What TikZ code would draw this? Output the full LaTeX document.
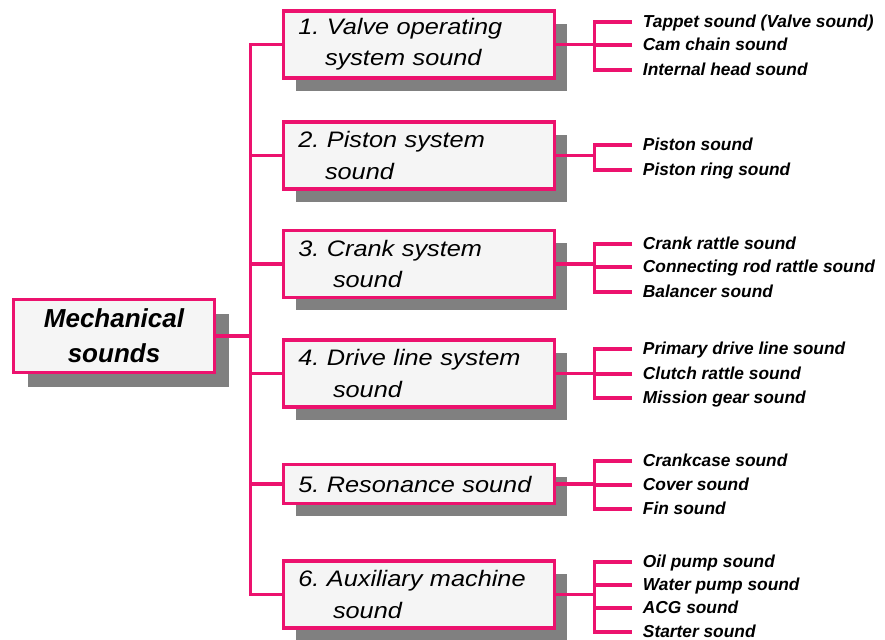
\documentclass[tikz,border=0pt]{standalone}
\usepackage{fontspec}
\setmainfont{Liberation Sans}
\newfontfamily\catfont[FakeStretch=1.13]{Liberation Sans}
\usepackage{tikz}
\usetikzlibrary{shadows}
\definecolor{linepink}{RGB}{236,18,110}
\definecolor{boxfill}{RGB}{245,245,245}
\definecolor{shadowgrey}{RGB}{128,128,128}
\frenchspacing

\begin{document}
\begin{tikzpicture}[x=0.75pt,y=-0.75pt,
  main node/.style={rectangle,draw=linepink,line width=2.3pt,fill=boxfill,
    minimum width=150.75pt,minimum height=54.75pt,align=center,
    general shadow={fill=shadowgrey,shadow xshift=11pt,shadow yshift=-11pt},
    font=\bfseries\itshape\fontsize{19.5}{26}\selectfont},
  cat node/.style={rectangle,draw=linepink,line width=2.3pt,fill=boxfill,
    minimum width=203.25pt,minimum height=50.25pt,inner xsep=11pt,
    text width=181pt,align=left,
    general shadow={fill=shadowgrey,shadow xshift=9.5pt,shadow yshift=-9.5pt},
    font=\catfont\itshape\fontsize{16.8}{23.3}\selectfont},
  leaf node/.style={anchor=west,inner xsep=8pt,inner ysep=0pt,
    text height=7.8pt,text depth=0pt,
    font=\bfseries\itshape\fontsize{13}{15}\selectfont},
  link/.style={draw=linepink,line width=2.4pt}]

  \path[use as bounding box,fill=white] (0,0) rectangle (885,639);

  \node[main node] (m) at (114,336) {Mechanical\\sounds};

  \node[cat node] (c1) at (419,44.5) {1. Valve operating\\\hspace*{20pt}system sound};
  \node[cat node] (c2) at (419,155.5) {2. Piston system\\\hspace*{20pt}sound};
  \node[cat node] (c3) at (419,264) {3. Crank system\\\hspace*{26pt}sound};
  \node[cat node] (c4) at (419,373.5) {4. Drive line system\\\hspace*{26pt}sound};
  \node[cat node,minimum height=29.25pt] (c5) at (419,484) {5. Resonance sound};
  \node[cat node] (c6) at (419,594.5) {6. Auxiliary machine\\\hspace*{26pt}sound};

  \node[leaf node] (l11) at (632,22) {Tappet sound (Valve sound)};
  \node[leaf node] (l12) at (632,45) {Cam chain sound};
  \node[leaf node] (l13) at (632,70) {Internal head sound};
  \node[leaf node] (l21) at (632,145) {Piston sound};
  \node[leaf node] (l22) at (632,170) {Piston ring sound};
  \node[leaf node] (l31) at (632,244) {Crank rattle sound};
  \node[leaf node] (l32) at (632,267) {Connecting rod rattle sound};
  \node[leaf node] (l33) at (632,292) {Balancer sound};
  \node[leaf node] (l41) at (632,349) {Primary drive line sound};
  \node[leaf node] (l42) at (632,374) {Clutch rattle sound};
  \node[leaf node] (l43) at (632,398) {Mission gear sound};
  \node[leaf node] (l51) at (632,461) {Crankcase sound};
  \node[leaf node] (l52) at (632,485) {Cover sound};
  \node[leaf node] (l53) at (632,509) {Fin sound};
  \node[leaf node] (l61) at (632,562) {Oil pump sound};
  \node[leaf node] (l62) at (632,585) {Water pump sound};
  \node[leaf node] (l63) at (632,608) {ACG sound};
  \node[leaf node] (l64) at (632,632) {Starter sound};

  % trunk from the main box
  \draw[link] (m.east) -- ++(34.5,0) coordinate (t);
  \draw[link] (c1.west) -| (t);
  \draw[link] (c6.west) -| (t);
  \draw[link] (c2.west) -- (c2.west -| t);
  \draw[link] (c3.west) -- (c3.west -| t);
  \draw[link] (c4.west) -- (c4.west -| t);
  \draw[link] (c5.west) -- (c5.west -| t);

  % brackets to the single sounds
  \draw[link] (c1.east) -- ++(38.5,0) coordinate (b1);
  \draw[link] (l11.west) -| (b1) |- (l13.west) (l12.west) -- (l12.west -| b1);
  \draw[link] (c2.east) -- ++(38.5,0) coordinate (b2);
  \draw[link] (l21.west) -| (b2) |- (l22.west);
  \draw[link] (c3.east) -- ++(38.5,0) coordinate (b3);
  \draw[link] (l31.west) -| (b3) |- (l33.west) (l32.west) -- (l32.west -| b3);
  \draw[link] (c4.east) -- ++(38.5,0) coordinate (b4);
  \draw[link] (l41.west) -| (b4) |- (l43.west) (l42.west) -- (l42.west -| b4);
  \draw[link] (c5.east) -- ++(38.5,0) coordinate (b5);
  \draw[link] (l51.west) -| (b5) |- (l53.west) (l52.west) -- (l52.west -| b5);
  \draw[link] (c6.east) -- ++(38.5,0) coordinate (b6);
  \draw[link] (l61.west) -| (b6) |- (l64.west) (l62.west) -- (l62.west -| b6)
              (l63.west) -- (l63.west -| b6);
\end{tikzpicture}
\end{document}
